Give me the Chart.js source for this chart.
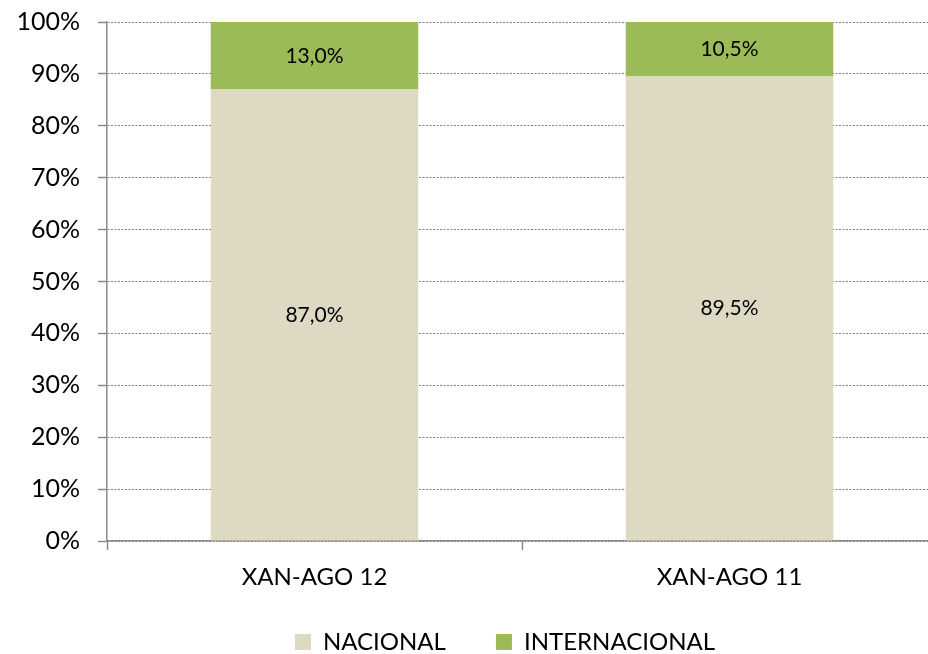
<!DOCTYPE html>
<html>
<head>
<meta charset="utf-8">
<script src="https://cdn.jsdelivr.net/npm/chart.js@4/dist/chart.umd.min.js"></script>
<style>
  html, body { margin: 0; padding: 0; background: #ffffff; }
  #wrap { width: 928px; height: 654px; overflow: hidden; position: relative; }
  #chart { display: block; }
</style>
</head>
<body>
<div id="wrap"><canvas id="chart" width="940" height="654"></canvas></div>
<script>
// data
const periods = ["XAN-AGO 12", "XAN-AGO 11"];
const nacional = [87.0, 89.5];
const internacional = [13.0, 10.5];
const yTicks = [0, 10, 20, 30, 40, 50, 60, 70, 80, 90, 100];

const axisGrey = "#8a8a8a";

function pct(v) {
  return v.toFixed(1).replace(".", ",") + "%";
}

// writes the value in the middle of each bar segment
const barLabels = {
  id: "barLabels",
  afterDatasetsDraw(chart) {
    const ctx = chart.ctx;
    ctx.save();
    ctx.font = "21px Lato";
    ctx.fillStyle = "#000000";
    ctx.textAlign = "center";
    ctx.textBaseline = "middle";
    chart.data.datasets.forEach((ds, i) => {
      chart.getDatasetMeta(i).data.forEach((bar, j) => {
        const p = bar.getCenterPoint();
        ctx.fillText(pct(ds.data[j]), p.x, p.y);
      });
    });
    ctx.restore();
  },
};

// the legend sits a bit lower and to the right of where chart.js would put it
const legendPlace = {
  id: "legendPlace",
  afterInit(chart) {
    const lg = chart.legend;
    const fit = lg.fit.bind(lg);
    lg.fit = function () {
      fit();
      this.height = 58;
    };
  },
  afterLayout(chart) {
    const lg = chart.legend;
    const pad = lg.options.labels.padding;
    const shift = 505 - (lg.left + lg.right) / 2;
    lg.left += shift;
    lg.right += shift;
    lg.top = 630 - pad;
    lg.bottom = chart.height;
    lg.height = lg.bottom - lg.top;
  },
};

new Chart(document.getElementById("chart"), {
  type: "bar",
  data: {
    labels: periods,
    datasets: [
      {
        label: "NACIONAL",
        data: nacional,
        backgroundColor: "#ddd9c3",
        borderWidth: 0,
      },
      {
        label: "INTERNACIONAL",
        data: internacional,
        backgroundColor: "#9bbb59",
        borderWidth: 0,
      },
    ],
  },
  options: {
    responsive: false,
    devicePixelRatio: 1,
    animation: false,
    categoryPercentage: 0.5,
    barPercentage: 1,
    layout: { padding: { top: 22, left: 0, right: 3, bottom: 0 } },
    plugins: {
      legend: {
        position: "bottom",
        labels: {
          font: { family: "Lato", size: 24 },
          color: "#000000",
          boxWidth: 16,
          boxHeight: 16,
          padding: 50,
        },
      },
      tooltip: { enabled: false },
    },
    scales: {
      x: {
        stacked: true,
        grid: {
          drawOnChartArea: false,
          drawTicks: true,
          tickLength: 9,
          tickColor: axisGrey,
          tickWidth: 1.5,
        },
        border: { color: axisGrey, width: 1.5 },
        ticks: {
          font: { family: "Lato", size: 24 },
          color: "#000000",
          padding: 13,
        },
        afterFit: (s) => {
          s.height = 55;
        },
      },
      y: {
        stacked: true,
        min: 0,
        max: 100,
        afterBuildTicks: (s) => {
          s.ticks = yTicks.map((v) => ({ value: v }));
        },
        grid: {
          color: "#808080",
          lineWidth: 1,
          tickLength: 9,
          tickColor: axisGrey,
          tickWidth: 1.5,
          tickBorderDash: [],
        },
        border: { color: axisGrey, width: 1.5, dash: [2, 1.5] },
        ticks: {
          font: { family: "Lato", size: 25 },
          color: "#000000",
          padding: 18,
          callback: (v) => v + "%",
        },
        afterFit: (s) => {
          s.width = 107;
          s.paddingTop = 0;
          s.paddingBottom = 0;
        },
      },
    },
  },
  plugins: [barLabels, legendPlace],
});
</script>
</body>
</html>
